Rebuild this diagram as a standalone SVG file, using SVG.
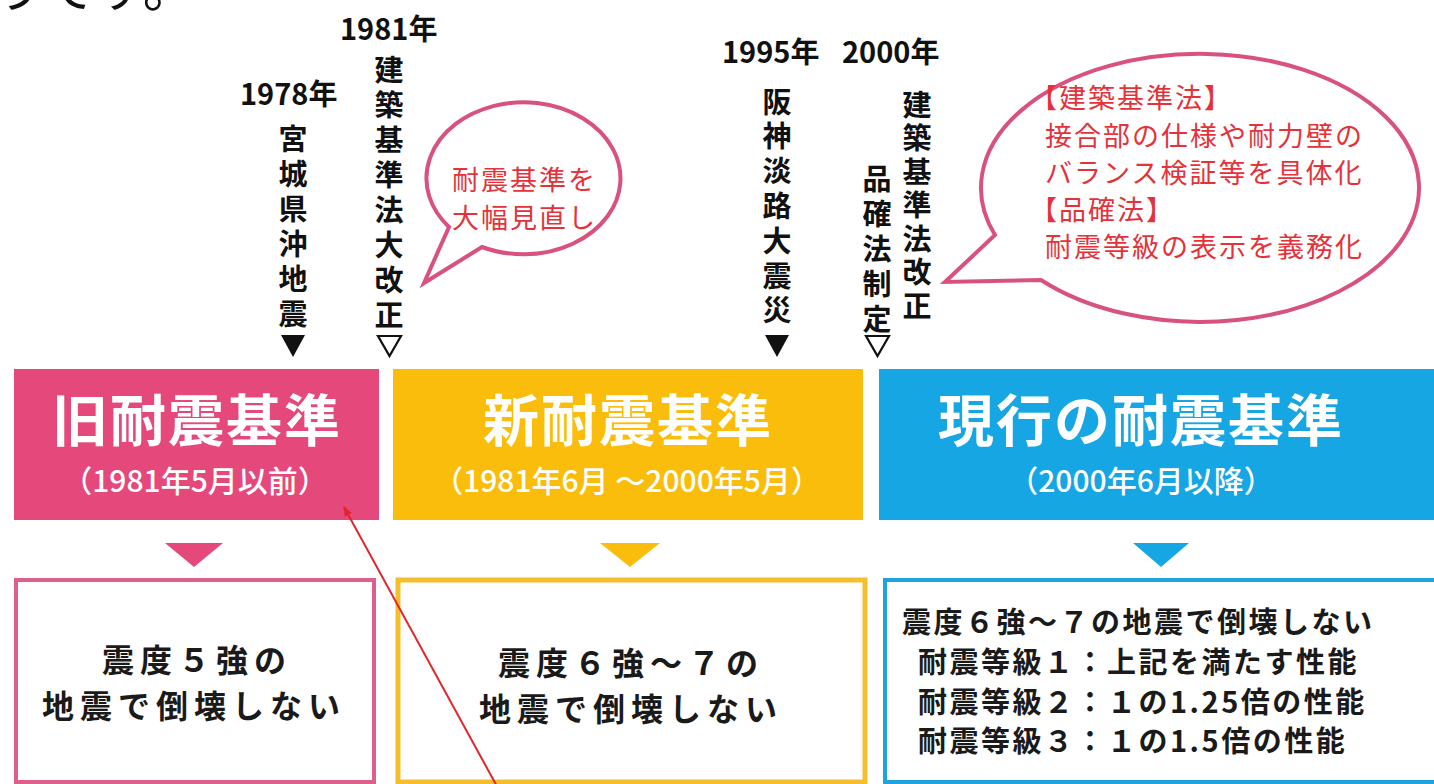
<svg xmlns="http://www.w3.org/2000/svg" width="1434" height="784" viewBox="0 0 1434 784">
<style>
text{font-family:"Noto Sans CJK JP","Noto Sans",sans-serif}
.yr{font-size:29px;font-weight:700;fill:#111}
.vt{font-size:29px;font-weight:700;fill:#111;writing-mode:vertical-rl;text-orientation:upright}
.h1{font-size:56px;font-weight:700;fill:#fff;text-anchor:middle;letter-spacing:2px}
.h2{font-size:30px;font-weight:500;fill:#fff;text-anchor:middle}
.bt{font-size:32px;font-weight:700;fill:#1a1a1a;text-anchor:middle;letter-spacing:6px}
.bs{font-size:29px;font-weight:700;fill:#1a1a1a;letter-spacing:2.5px}
.rt{font-size:27px;font-weight:400;fill:#e5323a;letter-spacing:2px}
.bub{fill:#fff;stroke:#d9517f;stroke-width:4;stroke-linejoin:miter}
</style>
<defs>
<marker id="ah" markerWidth="10" markerHeight="10" refX="9" refY="5" orient="auto" markerUnits="userSpaceOnUse">
<path d="M0,1 L10,5 L0,9 Z" fill="#e0262d"/>
</marker>
</defs>
<rect width="1434" height="784" fill="#fff"/>

<text x="-8" y="7" style="font-size:52px;fill:#111">りです。</text>

<g id="event-1978">
<text class="yr" x="240" y="105">1978年</text>
<text class="vt" x="293" y="124" letter-spacing="6">宮城県沖地震</text>
<polygon points="281,335 305,335 293,357" fill="#111"/>
</g>

<g id="event-1981">
<text class="yr" x="340" y="40">1981年</text>
<text class="vt" x="389" y="55" letter-spacing="6">建築基準法大改正</text>
<polygon points="378,336 401,336 389.5,356" fill="none" stroke="#111" stroke-width="2.2"/>
</g>

<g id="bubble-1981">
<path class="bub" d="M449,227 A97,76 0 1 1 482,247 L424,283 Z"/>
<text class="rt" x="452" y="190">耐震基準を</text>
<text class="rt" x="452" y="228">大幅見直し</text>
</g>

<g id="event-1995">
<text class="yr" x="722" y="63">1995年</text>
<text class="vt" x="777" y="87" letter-spacing="5.8">阪神淡路大震災</text>
<polygon points="765,335 789,335 777,357" fill="#111"/>
</g>

<g id="event-2000">
<text class="yr" x="842" y="63">2000年</text>
<text class="vt" x="917" y="90" letter-spacing="4.5">建築基準法改正</text>
<text class="vt" x="877" y="164" letter-spacing="6">品確法制定</text>
<polygon points="866,336 889,336 877.5,356" fill="none" stroke="#111" stroke-width="2.2"/>
</g>

<g id="bubble-2000">
<path class="bub" d="M995,235 A219,134 0 1 1 1041,280 L945,282 Z"/>
<text class="rt" x="1030" y="108">【建築基準法】</text>
<text class="rt" x="1045" y="146">接合部の仕様や耐力壁の</text>
<text class="rt" x="1045" y="183">バランス検証等を具体化</text>
<text class="rt" x="1030" y="220">【品確法】</text>
<text class="rt" x="1045" y="257">耐震等級の表示を義務化</text>
</g>

<g id="old-standard">
<rect x="14" y="369" width="365" height="151" fill="#e5487a"/>
<text class="h1" x="197" y="441">旧耐震基準</text>
<text class="h2" x="195" y="492">（1981年5月以前）</text>
<polygon points="165,543 223,543 194,567" fill="#e5487a"/>
<rect x="16" y="580" width="358" height="202" fill="#fff" stroke="#df5f8c" stroke-width="4"/>
<text class="bt" x="197" y="672">震度５強の</text>
<text class="bt" x="194" y="718">地震で倒壊しない</text>
</g>

<g id="new-standard">
<rect x="393" y="369" width="470" height="151" fill="#fbbd0b"/>
<text class="h1" x="628" y="441">新耐震基準</text>
<text class="h2" x="627" y="492">（1981年6月 ～2000年5月）</text>
<polygon points="600,543 660,543 630,567" fill="#fbbd0b"/>
<rect x="398" y="580" width="467" height="202" fill="#fff" stroke="#f6bd2c" stroke-width="5"/>
<text class="bt" x="631" y="675">震度６強～７の</text>
<text class="bt" x="631" y="721">地震で倒壊しない</text>
</g>

<g id="current-standard">
<rect x="879" y="369" width="570" height="151" fill="#16a6e4"/>
<text class="h1" x="1141" y="441">現行の耐震基準</text>
<text class="h2" x="1141" y="492">（2000年6月以降）</text>
<polygon points="1133,543 1189,543 1161,567" fill="#16a6e4"/>
<rect x="885" y="580" width="570" height="202" fill="#fff" stroke="#1fa3de" stroke-width="4"/>
<text class="bs" x="902" y="633">震度６強～７の地震で倒壊しない</text>
<text class="bs" x="918" y="673">耐震等級１：上記を満たす性能</text>
<text class="bs" x="918" y="713">耐震等級２：１の1.25倍の性能</text>
<text class="bs" x="918" y="752">耐震等級３：１の1.5倍の性能</text>
</g>

<g id="connectors">
<line x1="499" y1="790" x2="344" y2="507" stroke="#e0262d" stroke-width="2" marker-end="url(#ah)"/>
</g>
</svg>
